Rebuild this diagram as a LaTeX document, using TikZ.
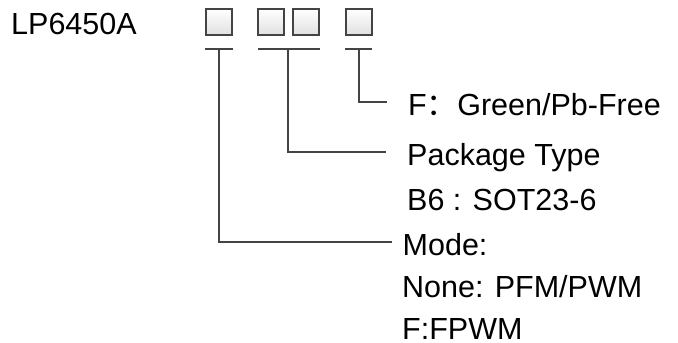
\documentclass[tikz,border=0pt]{standalone}
\usepackage{fontspec}
\setmainfont{Liberation Sans}
\newfontfamily\cjkfont{Noto Sans CJK SC}
\usetikzlibrary{positioning}
\definecolor{leadgray}{HTML}{444444}

\begin{document}
\begin{tikzpicture}[x=1pt,y=-1pt,
  digitbox/.style={draw=leadgray,line width=2pt,top color=white,bottom color=black!12,
    minimum size=26pt,inner sep=0pt},
  lbl/.style={anchor=base west,inner sep=0pt,text height=26pt,text depth=0pt,
    font=\fontsize{30.5}{36}\selectfont},
  leader/.style={draw=leadgray,line width=2pt}]
  \useasboundingbox (0,0) rectangle (678,343);
  \node[lbl] (part) at (11,34) {LP6450A};
  % code boxes
  \node[digitbox] (b1) at (219,22) {};
  \node[digitbox] (b2) at (271,22) {};
  \node[digitbox] (b3) at (306,22) {};
  \node[digitbox] (b4) at (358.5,22) {};
  % underlines
  \draw[leader] (205,49) -- (233,49);
  \draw[leader] (258,49) -- (320,49);
  \draw[leader] (345,49) -- (372,49);
  \coordinate (u1) at (219,49);
  \coordinate (u2) at (288,49);
  \coordinate (u3) at (359,49);
  % texts
  \node[lbl] (green) at (408,115) {F{\cjkfont ：}Green/Pb-Free};
  \node[lbl] (pkg)   at (407,165) {Package Type};
  \node[lbl] (sot)   at (407,210) {B6 : SOT23-6};
  \node[lbl] (mode)  at (402.5,255) {Mode:};
  \node[lbl] (pfm)   at (402,297.5) {None: PFM/PWM};
  \node[lbl] (fpwm)  at (402,339) {F:FPWM};
  % leaders
  \draw[leader] (u3) |- ([xshift=-21pt]green.west);
  \draw[leader] (u2) |- ([xshift=-21pt]pkg.west);
  \draw[leader] (u1) |- ([xshift=-11pt]mode.west);
\end{tikzpicture}
\end{document}
